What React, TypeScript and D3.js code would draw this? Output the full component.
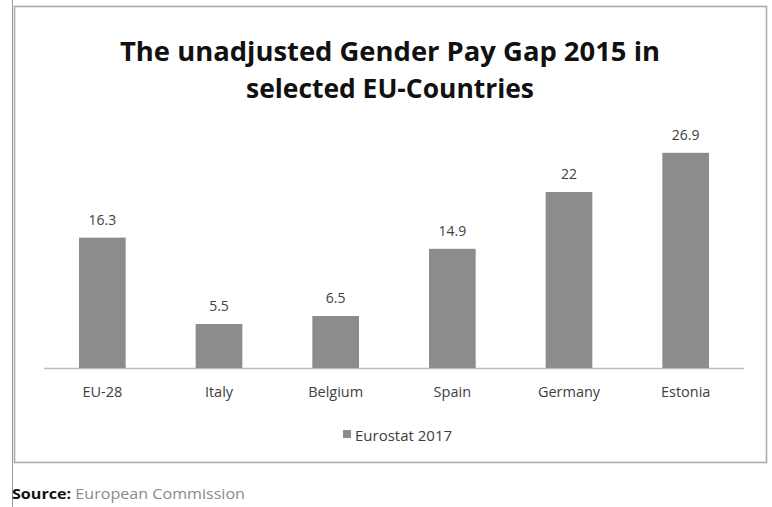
import React from "react";
import * as d3 from "d3";

const categories = ["EU-28", "Italy", "Belgium", "Spain", "Germany", "Estonia"];
const values = [16.3, 5.5, 6.5, 14.9, 22, 26.9];
const valueLabels = ["16.3", "5.5", "6.5", "14.9", "22", "26.9"];
const seriesName = "Eurostat 2017";
const titleLines = ["The unadjusted Gender Pay Gap 2015 in", "selected EU-Countries"];

export default function App() {
  const W = 772, H = 507;
  const x = d3.scaleBand<string>().domain(categories).range([44, 744]).paddingInner(0.6).paddingOuter(0.3);
  const y = d3.scaleLinear().domain([0, 30]).range([368, 128]);
  const font = "'Open Sans', sans-serif";
  return (
    <svg width={W} height={H} style={{ position: "absolute", left: 0, top: 0, background: "#fff" }}>
      <line x1={12.5} y1={0} x2={12.5} y2={H} stroke="#9a9a9a" strokeWidth={1} />
      <rect x={14.5} y={6.5} width={752} height={456} fill="#fff" stroke="#a8a8a8" strokeWidth={1.5} />
      {titleLines.map((t, i) => (
        <text key={i} x={390} y={61 + i * 37} textAnchor="middle" fontFamily={font} fontWeight={700}
          fontSize={27} fill="#111" textLength={i === 0 ? 540 : 288} lengthAdjust="spacingAndGlyphs">{t}</text>
      ))}
      <line x1={44} x2={744} y1={y(0) + 0.5} y2={y(0) + 0.5} stroke="#bdbdbd" strokeWidth={1.5} />
      {categories.map((c, i) => (
        <g key={c}>
          <rect x={x(c)!} y={y(values[i])} width={x.bandwidth()} height={y(0) - y(values[i])} fill="#8c8c8c" />
          <text x={x(c)! + x.bandwidth() / 2} y={y(values[i]) - 13} textAnchor="middle" fontFamily={font}
            fontSize={14} fill="#404040">{valueLabels[i]}</text>
          <text x={x(c)! + x.bandwidth() / 2} y={397} textAnchor="middle" fontFamily={font}
            fontSize={14.5} fill="#404040">{c}</text>
        </g>
      ))}
      <rect x={343} y={430} width={8} height={8} fill="#8c8c8c" />
      <text x={355} y={441} fontFamily={font} fontSize={15} fill="#404040">{seriesName}</text>
      <text x={12} y={499} fontFamily={font} fontSize={15} textLength={233} lengthAdjust="spacingAndGlyphs">
        <tspan fontWeight={700} fill="#111">Source:</tspan>
        <tspan fill="#8a8a8a"> European Commission</tspan>
      </text>
    </svg>
  );
}
